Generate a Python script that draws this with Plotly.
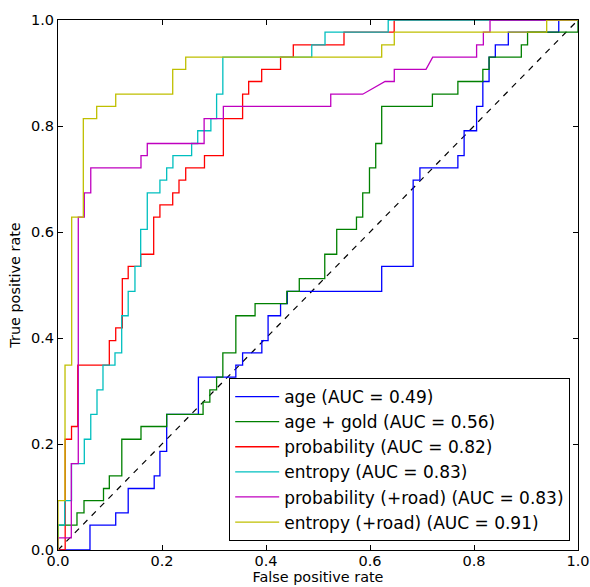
import plotly.graph_objects as go

# ---------------- data ----------------
names = [
    "age (AUC = 0.49)",
    "age + gold (AUC = 0.56)",
    "probability (AUC = 0.82)",
    "entropy (AUC = 0.83)",
    "probability (+road) (AUC = 0.83)",
    "entropy (+road) (AUC = 0.91)",
]

age_fpr = [0, 0.0615, 0.0615, 0.111, 0.111, 0.135, 0.135, 0.185, 0.185, 0.196, 0.196, 0.209, 0.209,
           0.27, 0.27, 0.342, 0.342, 0.355, 0.355, 0.392, 0.392, 0.404, 0.404, 0.428, 0.428, 0.441, 0.441,
           0.6225, 0.6225, 0.683, 0.683, 0.696, 0.696, 0.769, 0.769, 0.781, 0.781, 0.805, 0.805, 0.817, 0.817,
           0.829, 0.829, 0.841, 0.841, 0.866, 0.866, 0.963, 0.963, 1.0]
age_tpr = [0, 0, 0.047, 0.047, 0.07, 0.07, 0.116, 0.116, 0.14, 0.14, 0.186, 0.186, 0.256, 0.256, 0.326,
           0.326, 0.349, 0.349, 0.372, 0.372, 0.395, 0.395, 0.442, 0.442, 0.465, 0.465, 0.488, 0.488, 0.535,
           0.535, 0.698, 0.698, 0.721, 0.721, 0.744, 0.744, 0.791, 0.791, 0.837, 0.837, 0.884, 0.884, 0.93,
           0.93, 0.953, 0.953, 0.977, 0.977, 1.0, 1.0]

gold_fpr = [0, 0, 0.0365, 0.0365, 0.05, 0.05, 0.0875, 0.0875, 0.0987, 0.0987, 0.1227, 0.1227, 0.1596,
            0.1596, 0.209, 0.209, 0.279, 0.279, 0.292, 0.292, 0.305, 0.305, 0.317, 0.317, 0.342, 0.342,
            0.379, 0.379, 0.44, 0.44, 0.464, 0.464, 0.513, 0.513, 0.536, 0.536, 0.574, 0.574, 0.586, 0.586,
            0.599, 0.599, 0.611, 0.611, 0.6225, 0.6225, 0.72, 0.72, 0.769, 0.769, 0.817, 0.817, 0.829, 0.829,
            0.891, 0.891, 0.903, 0.903, 1.0, 1.0]
gold_tpr = [0, 0.047, 0.047, 0.07, 0.07, 0.093, 0.093, 0.116, 0.116, 0.14, 0.14, 0.209, 0.209, 0.233,
            0.233, 0.256, 0.256, 0.279, 0.279, 0.302, 0.302, 0.326, 0.326, 0.372, 0.372, 0.442, 0.442, 0.465,
            0.465, 0.488, 0.488, 0.512, 0.512, 0.558, 0.558, 0.605, 0.605, 0.628, 0.628, 0.674, 0.674, 0.721,
            0.721, 0.767, 0.767, 0.837, 0.837, 0.86, 0.86, 0.884, 0.884, 0.907, 0.907, 0.93, 0.93, 0.953,
            0.953, 0.977, 0.977, 1.0]

prob_fpr = [0, 0.0138, 0.0138, 0.026, 0.026, 0.038, 0.038, 0.0987, 0.0987, 0.111, 0.111, 0.1237, 0.1237,
            0.135, 0.135, 0.159, 0.159, 0.184, 0.184, 0.196, 0.196, 0.2206, 0.2206, 0.2327, 0.2327, 0.2456,
            0.2456, 0.2817, 0.2817, 0.318, 0.318, 0.355, 0.355, 0.3667, 0.3667, 0.3917, 0.3917, 0.428, 0.428,
            0.4525, 0.4525, 0.55, 0.55, 0.6465, 0.6465, 1.0]
prob_tpr = [0, 0, 0.209, 0.209, 0.233, 0.233, 0.349, 0.349, 0.395, 0.395, 0.419, 0.419, 0.512, 0.512,
            0.535, 0.535, 0.558, 0.558, 0.628, 0.628, 0.651, 0.651, 0.674, 0.674, 0.698, 0.698, 0.721, 0.721,
            0.744, 0.744, 0.814, 0.814, 0.86, 0.86, 0.884, 0.884, 0.907, 0.907, 0.93, 0.93, 0.953, 0.953,
            0.977, 0.977, 1.0, 1.0]

ent_fpr = [0, 0, 0.0129, 0.0129, 0.026, 0.026, 0.0506, 0.0506, 0.063, 0.063, 0.075, 0.075, 0.0865, 0.0865,
           0.1096, 0.1096, 0.1225, 0.1225, 0.135, 0.135, 0.148, 0.148, 0.159, 0.159, 0.1717, 0.1717, 0.196,
           0.196, 0.209, 0.209, 0.221, 0.221, 0.257, 0.257, 0.2687, 0.2687, 0.294, 0.294, 0.305, 0.305, 0.317,
           0.317, 0.488, 0.488, 0.5135, 0.5135, 0.635, 0.635, 1.0]
ent_tpr = [0, 0.047, 0.047, 0.093, 0.093, 0.163, 0.163, 0.209, 0.209, 0.256, 0.256, 0.302, 0.302, 0.349,
           0.349, 0.372, 0.372, 0.442, 0.442, 0.488, 0.488, 0.535, 0.535, 0.605, 0.605, 0.674, 0.674, 0.698,
           0.698, 0.721, 0.721, 0.744, 0.744, 0.767, 0.767, 0.791, 0.791, 0.814, 0.814, 0.86, 0.86, 0.93,
           0.93, 0.953, 0.953, 0.977, 0.977, 1.0, 1.0]

proad_fpr = [0, 0, 0.0256, 0.0256, 0.039, 0.039, 0.0506, 0.0506, 0.063, 0.063, 0.1596, 0.1596, 0.1717,
             0.1717, 0.281, 0.281, 0.318, 0.318, 0.5245, 0.5245, 0.586, 0.629, 0.6467, 0.6467, 0.7077,
             0.7206, 0.805, 0.805, 0.818, 0.818, 0.8308, 0.8308, 1.0]
proad_tpr = [0, 0.023, 0.023, 0.163, 0.163, 0.628, 0.628, 0.674, 0.674, 0.721, 0.721, 0.744, 0.744, 0.767,
             0.767, 0.814, 0.814, 0.837, 0.837, 0.86, 0.86, 0.884, 0.884, 0.907, 0.907, 0.93, 0.93, 0.953,
             0.953, 0.977, 0.977, 1.0, 1.0]

eroad_fpr = [0, 0, 0.0135, 0.0135, 0.0263, 0.0263, 0.0487, 0.0487, 0.0744, 0.0744, 0.111, 0.111, 0.2206,
             0.2206, 0.2456, 0.2456, 0.6225, 0.6225, 0.6467, 0.6467, 0.9398, 0.9398, 1.0]
eroad_tpr = [0, 0.093, 0.093, 0.349, 0.349, 0.628, 0.628, 0.814, 0.814, 0.837, 0.837, 0.86, 0.86, 0.907,
             0.907, 0.93, 0.93, 0.953, 0.953, 0.977, 0.977, 1.0, 1.0]

chance_x = [0, 1]
chance_y = [0, 1]

tick_vals = [0.0, 0.2, 0.4, 0.6, 0.8, 1.0]
tick_text = ["0.0", "0.2", "0.4", "0.6", "0.8", "1.0"]

colors = ["#0000ff", "#008000", "#ff0000", "#00bfbf", "#bf00bf", "#bfbf00"]

series = [
    (age_fpr, age_tpr),
    (gold_fpr, gold_tpr),
    (prob_fpr, prob_tpr),
    (ent_fpr, ent_tpr),
    (proad_fpr, proad_tpr),
    (eroad_fpr, eroad_tpr),
]

# ---------------- figure ----------------
fig = go.Figure()
fig.add_trace(go.Scatter(x=chance_x, y=chance_y, mode="lines",
                         line=dict(color="black", width=1.2, dash="6px,6px"),
                         showlegend=False, hoverinfo="skip"))

for name, color, (fx, ty) in zip(names, colors, series):
    fig.add_trace(go.Scatter(x=fx, y=ty, mode="lines", name=name,
                             line=dict(color=color, width=1.3)))

axis_common = dict(
    range=[0, 1], tickvals=tick_vals, ticktext=tick_text,
    ticks="inside", ticklen=5, tickwidth=1, tickcolor="black",
    showline=True, linecolor="black", linewidth=1, mirror="ticks",
    showgrid=False, zeroline=False, tickfont=dict(size=14.5),
    automargin=False, ticklabeloverflow="allow",
)

fig.update_xaxes(**axis_common, ticklabelstandoff=-2,
                 title=dict(text="False positive rate", font=dict(size=14.4), standoff=2))
fig.update_yaxes(**axis_common,
                 title=dict(text="True positive rate", font=dict(size=14.4), standoff=6))

fig.update_layout(
    width=590, height=587,
    margin=dict(l=58, r=12, t=20, b=37),
    plot_bgcolor="white", paper_bgcolor="white",
    font=dict(family="DejaVu Sans", color="black"),
    legend=dict(x=0.985, y=0.017, xanchor="right", yanchor="bottom",
                bgcolor="white", bordercolor="black", borderwidth=1,
                font=dict(size=17.0), tracegroupgap=0,
                itemwidth=44),
)

# remove the browser's default page margin so the figure fills the window
fig.write_html("out.html", config={"displayModeBar": False},
               post_script="document.body.style.margin='0';")
